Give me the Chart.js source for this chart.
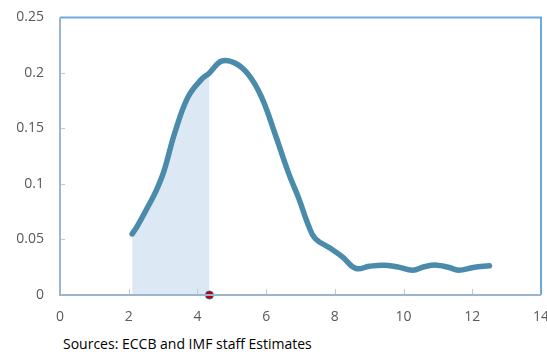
<!DOCTYPE html>
<html>
<head>
<meta charset="utf-8">
<script src="https://cdn.jsdelivr.net/npm/chart.js@4"></script>
<style>
    body { margin: 0; background: #fff; }
    #box { position: relative; width: 547px; height: 352px; overflow: hidden; }
    #grafico { position: absolute; left: 0; top: -7px; }
    #nota { position: absolute; left: 63px; top: 334px; font: 14px "Open Sans", "Noto Sans", sans-serif; color: #000; }
</style>
</head>
<body>
<div id="box">
    <canvas id="grafico" width="563" height="329"></canvas>
    <div id="nota">Sources: ECCB and IMF staff Estimates</div>
</div>
<script>
// curva de densidade (x, y)
const curvaX = [2.1, 2.25, 2.55, 2.8, 3.03, 3.33, 3.72, 4.11, 4.35, 4.7, 5.09, 5.48, 5.87, 6.26, 6.65, 6.95, 7.24, 7.43, 7.88, 8.22, 8.61, 9.0, 9.39, 9.8, 10.27, 10.6, 10.96, 11.3, 11.6, 12.03, 12.5];
const curvaY = [0.055, 0.062, 0.079, 0.094, 0.112, 0.145, 0.178, 0.194, 0.200, 0.2106, 0.209, 0.1987, 0.178, 0.145, 0.110, 0.087, 0.062, 0.0508, 0.0418, 0.0343, 0.0239, 0.0258, 0.0269, 0.0255, 0.0224, 0.0255, 0.0269, 0.025, 0.0224, 0.0248, 0.0263];
// ponto marcado no eixo
const marcaX = [4.35];
const marcaY = [0];
const limiteArea = 4.35;
const ticksX = [0, 2, 4, 6, 8, 10, 12, 14];
const ticksY = [0, 0.05, 0.1, 0.15, 0.2, 0.25];

const pontos = curvaX.map((x, i) => ({ x: x, y: curvaY[i] }));
const pontosArea = pontos.filter(p => p.x <= limiteArea);

const fonte = { family: "'Open Sans', 'Noto Sans', sans-serif", size: 14 };

// moldura e tracinhos internos
const moldura = {
    id: 'moldura',
    afterDatasetsDraw(chart) {
        const { ctx, chartArea: a, scales } = chart;
        ctx.save();
        ctx.lineWidth = 2;
        ctx.strokeStyle = '#6ea8e0';
        ctx.beginPath();
        ctx.moveTo(a.left, a.top);
        ctx.lineTo(a.right, a.top);
        ctx.lineTo(a.right, a.bottom);
        ctx.stroke();
        ctx.strokeStyle = '#9db4cf';
        ctx.beginPath();
        ctx.moveTo(a.left, a.top);
        ctx.lineTo(a.left, a.bottom);
        ctx.lineTo(a.right, a.bottom);
        ctx.stroke();
        ctx.lineWidth = 1;
        ctx.strokeStyle = '#c0c8d2';
        ctx.beginPath();
        ticksX.slice(1, -1).forEach(v => {
            const px = Math.round(scales.x.getPixelForValue(v)) + 0.5;
            ctx.moveTo(px, a.bottom - 1);
            ctx.lineTo(px, a.bottom - 6);
        });
        ticksY.slice(1, -1).forEach(v => {
            const py = Math.round(scales.y.getPixelForValue(v)) + 0.5;
            ctx.moveTo(a.left + 1, py);
            ctx.lineTo(a.left + 5, py);
        });
        ctx.stroke();
        ctx.restore();
    }
};

new Chart(document.getElementById('grafico'), {
    type: 'scatter',
    data: {
        datasets: [{
            data: pontosArea,
            showLine: true,
            fill: 'origin',
            backgroundColor: '#dde8f5',
            borderWidth: 0,
            pointRadius: 0,
            tension: 0.4,
            order: 3
        }, {
            data: pontos,
            showLine: true,
            fill: false,
            borderColor: '#4a8aab',
            borderWidth: 5.5,
            borderCapStyle: 'round',
            borderJoinStyle: 'round',
            pointRadius: 0,
            tension: 0.4,
            order: 2
        }, {
            data: marcaX.map((x, i) => ({ x: x, y: marcaY[i] })),
            pointRadius: 4,
            backgroundColor: '#c00000',
            borderColor: '#3a5f8a',
            borderWidth: 1,
            clip: false,
            order: 1
        }]
    },
    options: {
        responsive: false,
        animation: false,
        layout: { padding: { top: 9, right: 2, left: 0, bottom: 0 } },
        plugins: { legend: { display: false }, tooltip: { enabled: false } },
        scales: {
            x: {
                type: 'linear',
                min: 0, max: 14,
                afterBuildTicks: s => { s.ticks = ticksX.map(v => ({ value: v })); },
                afterFit: s => { s.height = 27; },
                grid: { display: false, drawTicks: false },
                border: { display: false },
                ticks: { color: '#595959', font: fonte, padding: 14, maxRotation: 0, callback: v => String(v) }
            },
            y: {
                min: 0, max: 0.25,
                afterBuildTicks: s => { s.ticks = ticksY.map(v => ({ value: v })); },
                afterFit: s => { s.width = 60; },
                grid: { display: false, drawTicks: false },
                border: { display: false },
                ticks: { color: '#595959', font: fonte, padding: 16, callback: v => String(v) }
            }
        }
    },
    plugins: [moldura]
});
</script>
</body>
</html>
